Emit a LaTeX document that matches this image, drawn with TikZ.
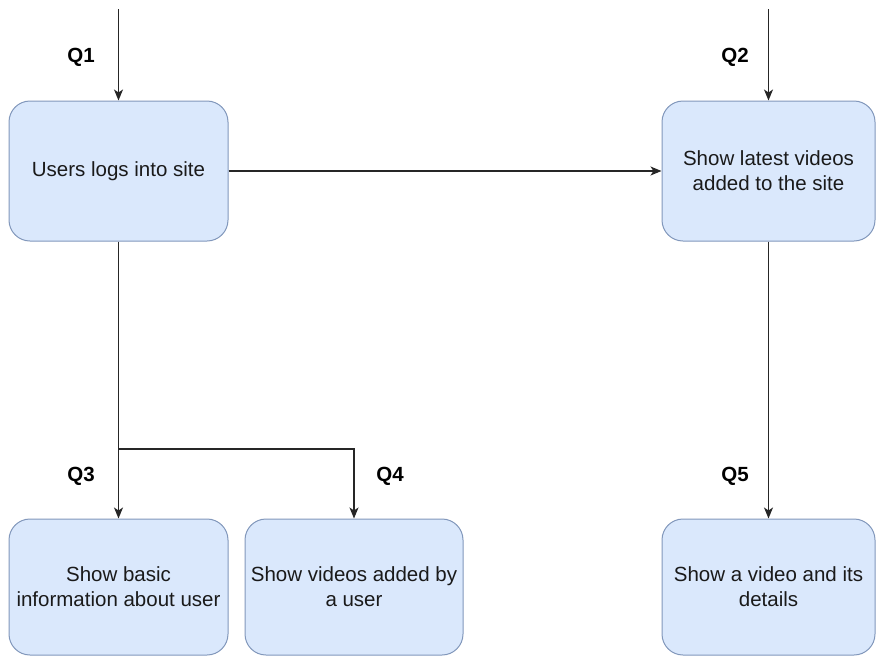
\documentclass[tikz,border=0pt]{standalone}
\usepackage{fontspec}
\setmainfont{Liberation Sans}
\usetikzlibrary{arrows.meta}
\definecolor{boxfill}{HTML}{DAE8FC}
\definecolor{boxline}{HTML}{8197BB}
\definecolor{ink}{HTML}{1A1A1A}
\tikzset{
  stepbox/.style={draw=boxline, fill=boxfill, line width=1pt, rounded corners=21pt,
    minimum height=140pt, align=center, text=ink, inner sep=0pt,
    font=\fontsize{20.5}{25}\selectfont},
  qlabel/.style={font=\fontsize{20.5}{25}\selectfont\bfseries, text=black},
  flow/.style={draw=black!85, line width=1.2pt, -{Stealth[length=11pt,width=9pt,inset=3pt]}}
}
\begin{document}
\begin{tikzpicture}[x=1pt, y=-1pt]
\useasboundingbox (0,0) rectangle (876,657);
% process boxes
\node[stepbox, minimum width=219pt] (login) at (118.5,171) {Users logs into site};
\node[stepbox, minimum width=213pt] (latest) at (768.5,171) {Show latest videos\\added to the site};
\node[stepbox, minimum width=219pt, minimum height=136pt] (basic) at (118.5,587) {Show basic\\information about user};
\node[stepbox, minimum width=218pt, minimum height=136pt] (byuser) at (354,587) {Show videos added by\\a user};
\node[stepbox, minimum width=213pt, minimum height=136pt] (detail) at (768.5,587) {Show a video and its\\details};
% free ends and the branch point
\coordinate (in1) at (118.5,9);
\coordinate (in2) at (768.5,9);
\coordinate (fork) at (118.5,449);
% query labels
\node[qlabel] (q1) at (81,57) {Q1};
\node[qlabel] (q2) at (735,57) {Q2};
\node[qlabel] (q3) at (81,476) {Q3};
\node[qlabel] (q4) at (390,476) {Q4};
\node[qlabel] (q5) at (735,476) {Q5};
% connectors
\draw[flow] (in1) -- (login.north);
\draw[flow] (in2) -- (latest.north);
\draw[flow] (login.east) -- (latest.west);
\draw[flow] (login.south) -- (basic.north);
\draw[flow] (fork) -| (byuser.north);
\draw[flow] (latest.south) -- (detail.north);
\end{tikzpicture}
\end{document}
